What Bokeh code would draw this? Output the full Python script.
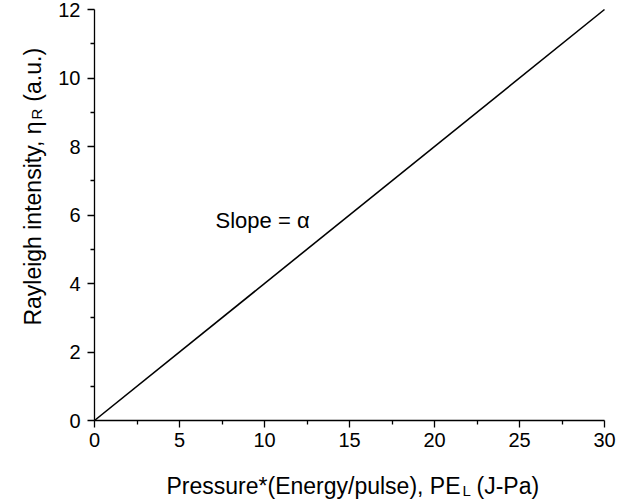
import math
from bokeh.plotting import figure
from bokeh.models import Label, Range1d, LinearAxis, FixedTicker
from bokeh.embed import file_html
from bokeh.resources import INLINE

# data
pel = [0, 30]
eta_r = [0, 12]
x_ticks = [0, 5, 10, 15, 20, 25, 30]
x_minor = [2.5, 7.5, 12.5, 17.5, 22.5, 27.5]
y_ticks = [0, 2, 4, 6, 8, 10, 12]
y_minor = [1, 3, 5, 7, 9, 11]
annotation = "Slope = α"
annot_x, annot_y = 7.12, 5.84

FONT = "Liberation Sans"
W, H = 618, 499
# layout: data 0..30 -> px 94..604, data 0..12 -> px 420..9 (from top)
sx = (604 - 94) / 30.0
sy = (420 - 9) / 12.0
x0 = -94 / sx
y1 = 12 + 9 / sy

p = figure(width=W, height=H, output_backend="svg", toolbar_location=None,
           x_range=Range1d(x0, x0 + W / sx), y_range=Range1d(y1 - H / sy, y1),
           x_axis_location=None, y_axis_location=None)
p.min_border = 0
p.min_border_left = 0
p.min_border_right = 0
p.min_border_top = 0
p.min_border_bottom = 0
p.outline_line_color = None
p.grid.visible = False
p.background_fill_color = "white"
p.border_fill_color = "white"

p.line(pel, eta_r, line_color="black", line_width=1.6)

xa = LinearAxis(fixed_location=0, bounds=(0, 30),
                ticker=FixedTicker(ticks=x_ticks, minor_ticks=x_minor))
ya = LinearAxis(fixed_location=0, bounds=(0, 12),
                ticker=FixedTicker(ticks=y_ticks, minor_ticks=y_minor))
for ax in (xa, ya):
    ax.axis_line_color = "black"
    ax.axis_line_width = 1.3
    ax.major_tick_line_color = "black"
    ax.minor_tick_line_color = "black"
    ax.major_tick_line_width = 1.3
    ax.minor_tick_line_width = 1.3
    ax.major_tick_in = 0
    ax.major_tick_out = 7
    ax.minor_tick_in = 0
    ax.minor_tick_out = 4
    ax.major_label_text_font = FONT
    ax.major_label_text_font_size = "20px"
    ax.major_label_text_color = "black"
xa.major_label_standoff = 5
ya.major_label_standoff = 7
p.add_layout(xa, "below")
p.add_layout(ya, "left")

def lab(x, y, text, size="23px", align="left", angle=0.0, baseline="alphabetic"):
    p.add_layout(Label(x=x, y=y, text=text, text_font=FONT, text_font_size=size,
                       text_align=align, text_baseline=baseline, angle=angle,
                       text_color="black"))

# annotation
lab(annot_x, annot_y, annotation, size="22px")

# x axis label with subscript
lab(21.53, -1.90, "Pressure*(Energy/pulse), PE", align="right")
lab(21.65, -2.05, "L", size="15px")
lab(22.47, -1.90, "(J-Pa)")

# y axis label with subscript (rotated)
a = math.pi / 2
lab(-3.647, 8.73, "Rayleigh intensity, η", align="right", angle=a)
lab(-3.40, 8.79, "R", size="15px", angle=a)
lab(-3.647, 9.31, "(a.u.)", angle=a)

open("out.html", "w").write(file_html(p, INLINE))
